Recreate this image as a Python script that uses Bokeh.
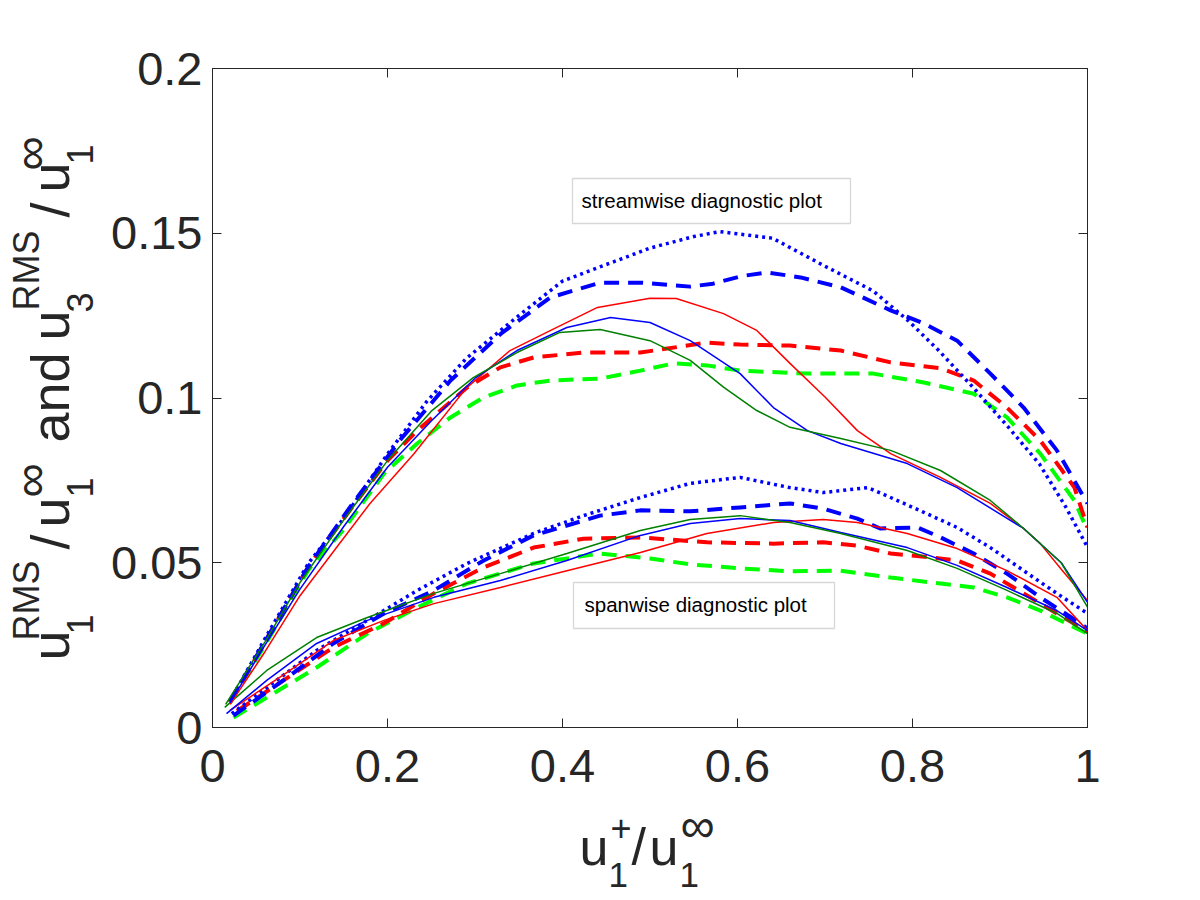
import numpy as np
from bokeh.plotting import figure
from bokeh.models import FixedTicker, LinearAxis, Label, BoxAnnotation, Range1d
from bokeh.layouts import row, column
from bokeh.embed import file_html
from bokeh.resources import INLINE

# ---------------- tick labels ----------------
x_ticks = [0, 0.2, 0.4, 0.6, 0.8, 1.0]
x_tick_labels = ["0", "0.2", "0.4", "0.6", "0.8", "1"]
y_ticks = [0, 0.05, 0.1, 0.15, 0.2]
y_tick_labels = ["0", "0.05", "0.1", "0.15", "0.2"]

# ---------------- streamwise (upper group) ----------------
sw_blue_dot_x = [0.02, 0.06, 0.11, 0.15, 0.20, 0.245, 0.29, 0.35, 0.40, 0.45, 0.50, 0.55, 0.58, 0.64, 0.70, 0.755, 0.795, 0.83, 0.87, 0.91, 0.945, 0.975, 1.0]
sw_blue_dot_y = [0.008, 0.027, 0.050, 0.0635, 0.083, 0.099, 0.112, 0.125, 0.1355, 0.1405, 0.1455, 0.149, 0.1505, 0.1485, 0.140, 0.1325, 0.1235, 0.1144, 0.103, 0.091, 0.080, 0.067, 0.0547]

sw_blue_dash_x = [0.02, 0.06, 0.11, 0.157, 0.214, 0.272, 0.33, 0.386, 0.443, 0.49, 0.546, 0.572, 0.605, 0.634, 0.672, 0.718, 0.775, 0.813, 0.851, 0.889, 0.927, 0.965, 1.0]
sw_blue_dash_y = [0.008, 0.026, 0.049, 0.0668, 0.0871, 0.1053, 0.1196, 0.1305, 0.135, 0.135, 0.1338, 0.1347, 0.137, 0.1381, 0.1366, 0.1336, 0.1266, 0.1226, 0.1174, 0.1074, 0.0971, 0.0841, 0.068]

sw_red_solid_x = [0.02, 0.06, 0.10, 0.14, 0.18, 0.23, 0.29, 0.34, 0.39, 0.44, 0.50, 0.53, 0.584, 0.622, 0.66, 0.70, 0.737, 0.775, 0.832, 0.889, 0.927, 0.946, 0.97, 1.0]
sw_red_solid_y = [0.007, 0.023, 0.040, 0.054, 0.068, 0.083, 0.103, 0.1144, 0.121, 0.1275, 0.1303, 0.1302, 0.1256, 0.1205, 0.1105, 0.1003, 0.0901, 0.0831, 0.0759, 0.068, 0.0604, 0.0558, 0.048, 0.0385]

sw_blue_solid_x = [0.02, 0.06, 0.10, 0.15, 0.20, 0.25, 0.30, 0.348, 0.405, 0.455, 0.50, 0.546, 0.603, 0.641, 0.68, 0.718, 0.794, 0.851, 0.927, 0.97, 1.0]
sw_blue_solid_y = [0.0075, 0.025, 0.042, 0.061, 0.079, 0.093, 0.106, 0.1144, 0.1214, 0.1244, 0.1229, 0.1174, 0.1074, 0.0971, 0.0901, 0.0862, 0.0801, 0.0728, 0.0604, 0.050, 0.038]

sw_green_solid_x = [0.015, 0.06, 0.10, 0.15, 0.20, 0.25, 0.298, 0.348, 0.397, 0.443, 0.50, 0.546, 0.584, 0.622, 0.66, 0.718, 0.775, 0.832, 0.889, 0.927, 0.97, 1.0]
sw_green_solid_y = [0.007, 0.026, 0.044, 0.063, 0.081, 0.096, 0.1062, 0.1138, 0.1199, 0.1208, 0.1174, 0.1114, 0.1033, 0.0962, 0.0911, 0.0877, 0.0841, 0.078, 0.0689, 0.0604, 0.050, 0.0365]

sw_red_dash_x = [0.02, 0.06, 0.11, 0.16, 0.20, 0.234, 0.291, 0.329, 0.367, 0.424, 0.489, 0.565, 0.603, 0.66, 0.718, 0.775, 0.832, 0.87, 0.908, 0.946, 0.985, 1.0]
sw_red_dash_y = [0.0075, 0.026, 0.049, 0.067, 0.081, 0.0901, 0.1032, 0.1093, 0.1123, 0.1138, 0.1138, 0.1168, 0.1162, 0.1159, 0.1144, 0.1108, 0.109, 0.1053, 0.0971, 0.0871, 0.0729, 0.0607]

sw_lime_dash_x = [0.02, 0.06, 0.11, 0.149, 0.196, 0.234, 0.272, 0.31, 0.348, 0.386, 0.443, 0.489, 0.527, 0.565, 0.603, 0.68, 0.755, 0.813, 0.87, 0.908, 0.946, 0.985, 1.0]
sw_lime_dash_y = [0.0075, 0.025, 0.048, 0.0598, 0.0771, 0.0862, 0.0941, 0.1002, 0.1038, 0.1053, 0.1059, 0.1083, 0.1105, 0.1099, 0.1083, 0.1074, 0.1074, 0.1047, 0.1013, 0.0941, 0.0831, 0.0689, 0.0598]

# ---------------- spanwise (lower group) ----------------
spw_blue_dot_x = [0.022, 0.062, 0.119, 0.177, 0.234, 0.291, 0.367, 0.424, 0.489, 0.546, 0.603, 0.66, 0.698, 0.749, 0.775, 0.813, 0.851, 0.889, 0.927, 0.965, 1.0]
spw_blue_dot_y = [0.0042, 0.0121, 0.0234, 0.0325, 0.0416, 0.0498, 0.0589, 0.0643, 0.0698, 0.0741, 0.0759, 0.0728, 0.0713, 0.0728, 0.0698, 0.0653, 0.0607, 0.0546, 0.0476, 0.0407, 0.0346]

spw_blue_dash_x = [0.024, 0.081, 0.138, 0.196, 0.253, 0.31, 0.367, 0.443, 0.489, 0.546, 0.603, 0.66, 0.698, 0.737, 0.763, 0.806, 0.832, 0.87, 0.908, 0.946, 0.992, 1.0]
spw_blue_dash_y = [0.0036, 0.0143, 0.0255, 0.0346, 0.0416, 0.0507, 0.0583, 0.0643, 0.0659, 0.0656, 0.0668, 0.068, 0.0664, 0.0634, 0.0604, 0.0607, 0.0577, 0.0528, 0.0467, 0.0395, 0.0316, 0.030]

spw_red_dash_x = [0.028, 0.081, 0.138, 0.196, 0.253, 0.31, 0.367, 0.424, 0.489, 0.565, 0.641, 0.698, 0.737, 0.775, 0.821, 0.851, 0.889, 0.927, 0.965, 0.992, 1.0]
spw_red_dash_y = [0.005, 0.0143, 0.0243, 0.0316, 0.0407, 0.0486, 0.0546, 0.0573, 0.0577, 0.0562, 0.0558, 0.0562, 0.0552, 0.0528, 0.0516, 0.0507, 0.0467, 0.0407, 0.0346, 0.0304, 0.029]

spw_lime_dash_x = [0.024, 0.062, 0.119, 0.177, 0.234, 0.291, 0.367, 0.443, 0.5, 0.546, 0.603, 0.66, 0.718, 0.775, 0.832, 0.87, 0.908, 0.946, 0.985, 1.0]
spw_lime_dash_y = [0.003, 0.0091, 0.0182, 0.0285, 0.0364, 0.0437, 0.0498, 0.0528, 0.0513, 0.0495, 0.0483, 0.0474, 0.0476, 0.0455, 0.0437, 0.0425, 0.0395, 0.0355, 0.0304, 0.0285]

spw_red_solid_x = [0.02, 0.081, 0.138, 0.196, 0.253, 0.329, 0.405, 0.489, 0.565, 0.641, 0.698, 0.737, 0.794, 0.851, 0.908, 0.965, 1.0]
spw_red_solid_y = [0.0052, 0.0160, 0.0264, 0.0325, 0.0376, 0.0425, 0.0476, 0.0531, 0.0589, 0.0622, 0.0631, 0.0622, 0.0589, 0.0543, 0.0476, 0.0395, 0.0294]

spw_blue_solid_x = [0.016, 0.062, 0.119, 0.177, 0.253, 0.329, 0.405, 0.489, 0.546, 0.603, 0.66, 0.718, 0.794, 0.851, 0.908, 0.965, 1.0]
spw_blue_solid_y = [0.0042, 0.0143, 0.0255, 0.0325, 0.0395, 0.0446, 0.0507, 0.0583, 0.0619, 0.0634, 0.0628, 0.0592, 0.0546, 0.0492, 0.0425, 0.0355, 0.0294]

spw_green_solid_x = [0.014, 0.062, 0.119, 0.177, 0.253, 0.329, 0.405, 0.489, 0.546, 0.603, 0.66, 0.718, 0.794, 0.851, 0.908, 0.965, 1.0]
spw_green_solid_y = [0.0061, 0.0173, 0.0273, 0.0334, 0.0407, 0.0467, 0.0528, 0.0598, 0.0631, 0.0643, 0.0622, 0.0589, 0.0537, 0.0483, 0.0416, 0.0346, 0.0285]

# ---------------- styles / layout constants ----------------
RED = "#FF0000"
BLUE = "#0000FF"
DKGREEN = "#008000"
LIME = "#00FF00"
AX = "#262626"
FONT = "Liberation Sans"

TOTAL_H = 892
YLAB_W = 104            # strip holding the rotated y label
FRAME_L, FRAME_T = 212, 68
FRAME_W, FRAME_H = 875, 659
FRAME_B = FRAME_T + FRAME_H
MAIN_BOTTOM = 80
BORDER_L = FRAME_L - YLAB_W
BORDER_R = 97
MAIN_H = FRAME_T + FRAME_H + MAIN_BOTTOM
XLAB_UP = 4             # small lift of the x label so its subscripts stay inside the page

p = figure(title=None, frame_width=FRAME_W, frame_height=FRAME_H,
           min_border_left=BORDER_L, min_border_top=FRAME_T,
           min_border_right=BORDER_R, min_border_bottom=MAIN_BOTTOM,
           x_range=Range1d(0, 1), y_range=Range1d(0, 0.2),
           output_backend="svg", toolbar_location=None)
p.background_fill_color = "white"
p.border_fill_color = "white"
p.outline_line_color = AX
p.outline_line_width = 1
p.grid.visible = False

def style_axis(ax, ticks, labels, show_labels=True):
    ax.ticker = FixedTicker(ticks=ticks)
    ax.major_label_overrides = {t: l for t, l in zip(ticks, labels)}
    ax.major_tick_in = 9
    ax.major_tick_out = 0
    ax.minor_tick_line_color = None
    ax.axis_line_color = AX
    ax.major_tick_line_color = AX
    ax.major_label_text_font = FONT
    ax.major_label_text_font_size = "47px"
    ax.major_label_text_line_height = 1.0
    ax.major_label_text_color = AX if show_labels else None
    ax.axis_label = None
    ax.axis_label_standoff = 0

style_axis(p.xaxis[0], x_ticks, x_tick_labels)
style_axis(p.yaxis[0], y_ticks, y_tick_labels)
p.xaxis[0].major_label_standoff = 22
p.yaxis[0].major_label_standoff = 10

top_ax = LinearAxis()
style_axis(top_ax, x_ticks, x_tick_labels, show_labels=False)
top_ax.major_label_text_font_size = "1px"
p.add_layout(top_ax, "above")
right_ax = LinearAxis()
style_axis(right_ax, y_ticks, y_tick_labels, show_labels=False)
right_ax.major_label_text_font_size = "1px"
p.add_layout(right_ax, "right")

SOLID_W = 1.5
DASH_W = 4
DASH = "15 9"
DOT = "3 4"

def draw(x, y, color, kind):
    if kind == "solid":
        p.line(x, y, line_color=color, line_width=SOLID_W)
    elif kind == "dash":
        p.line(x, y, line_color=color, line_width=DASH_W, line_dash=DASH)
    else:
        p.line(x, y, line_color=color, line_width=3.5, line_dash=DOT)

# spanwise
draw(spw_lime_dash_x, spw_lime_dash_y, LIME, "dash")
draw(spw_red_dash_x, spw_red_dash_y, RED, "dash")
draw(spw_blue_dash_x, spw_blue_dash_y, BLUE, "dash")
draw(spw_blue_dot_x, spw_blue_dot_y, BLUE, "dot")
draw(spw_red_solid_x, spw_red_solid_y, RED, "solid")
draw(spw_blue_solid_x, spw_blue_solid_y, BLUE, "solid")
draw(spw_green_solid_x, spw_green_solid_y, DKGREEN, "solid")
# streamwise
draw(sw_lime_dash_x, sw_lime_dash_y, LIME, "dash")
draw(sw_red_dash_x, sw_red_dash_y, RED, "dash")
draw(sw_blue_dash_x, sw_blue_dash_y, BLUE, "dash")
draw(sw_blue_dot_x, sw_blue_dot_y, BLUE, "dot")
draw(sw_red_solid_x, sw_red_solid_y, RED, "solid")
draw(sw_blue_solid_x, sw_blue_solid_y, BLUE, "solid")
draw(sw_green_solid_x, sw_green_solid_y, DKGREEN, "solid")

# ---------------- annotation boxes (page-pixel layout) ----------------
def px_to_x(px):
    return (px - FRAME_L) / FRAME_W

def py_to_y(py):
    return (FRAME_B - py) / FRAME_H * 0.2

for (l, r, t, b) in [(572, 850, 178, 223), (573, 834, 582, 628)]:
    p.add_layout(BoxAnnotation(left=px_to_x(l), right=px_to_x(r),
                               bottom=py_to_y(b), top=py_to_y(t),
                               fill_color="white", fill_alpha=1.0,
                               line_color="#7a7a7a", line_width=1.3, level="overlay"))

def lift(size):
    # distance between Bokeh's label anchor and the glyph baseline
    return 0.25 * size + 2

def add_text(fig, txt, sx, sy, size, angle=0.0, color="#000000"):
    fig.add_layout(Label(x=sx, y=sy, x_units="screen", y_units="screen",
                         text=txt, angle=angle, text_align="left", text_baseline="alphabetic",
                         text_font=FONT, text_font_size=f"{size}px", text_color=color,
                         level="overlay"))

add_text(p, "streamwise diagnostic plot", 581 - FRAME_L, FRAME_B - 205 + lift(20.5) - 2, 20.5)
add_text(p, "spanwise diagnostic plot", 584 - FRAME_L, FRAME_B - 609 + lift(20.5) - 2, 20.5)

# ---------------- x axis label strip:  u_1^+ / u_1^inf ----------------
XLAB_H = TOTAL_H - MAIN_H
xl = figure(title=None, frame_width=FRAME_W, height=XLAB_H,
            min_border_left=BORDER_L, min_border_right=BORDER_R,
            min_border_top=0, min_border_bottom=0,
            x_axis_type=None, y_axis_type=None,
            x_range=Range1d(0, 1), y_range=Range1d(0, 1),
            output_backend="svg", toolbar_location=None)
xl.outline_line_color = None
xl.border_fill_color = "white"
xl.grid.visible = False
x_label_parts = [("u", 52, 579, 865), ("1", 35, 608, 889), ("+", 36, 610, 842),
                 ("/", 52, 631, 865), ("u", 52, 649, 865), ("1", 35, 679, 889),
                 ("\u221e", 48, 680, 843)]
for t, s, px, py in x_label_parts:
    add_text(xl, t, px - FRAME_L, TOTAL_H - (py - XLAB_UP) + lift(s), s, color=AX)

# ---------------- y axis label strip (rotated) ----------------
yl = figure(title=None, width=YLAB_W, height=TOTAL_H, min_border=0,
            x_axis_type=None, y_axis_type=None,
            x_range=Range1d(0, 1), y_range=Range1d(0, 1),
            output_backend="svg", toolbar_location=None)
yl.outline_line_color = None
yl.grid.visible = False
y_label_parts = [("u", 54, 65, 660), ("1", 36, 90, 634), ("RMS", 36, 37, 640),
                 ("/", 54, 65, 549), ("u", 54, 65, 527), ("1", 36, 90, 497),
                 ("\u221e", 48, 44, 497), ("and", 54, 65, 442),
                 ("u", 54, 65, 340), ("3", 36, 90, 312), ("RMS", 36, 37, 310),
                 ("/", 54, 65, 217), ("u", 54, 65, 192), ("1", 36, 90, 164),
                 ("\u221e", 48, 44, 170)]
for t, s, px, py in y_label_parts:
    add_text(yl, t, px - lift(s), TOTAL_H - py, s, angle=np.pi / 2, color=AX)

layout = row(yl, column(p, xl))
open("out.html", "w").write(file_html(layout, INLINE))
